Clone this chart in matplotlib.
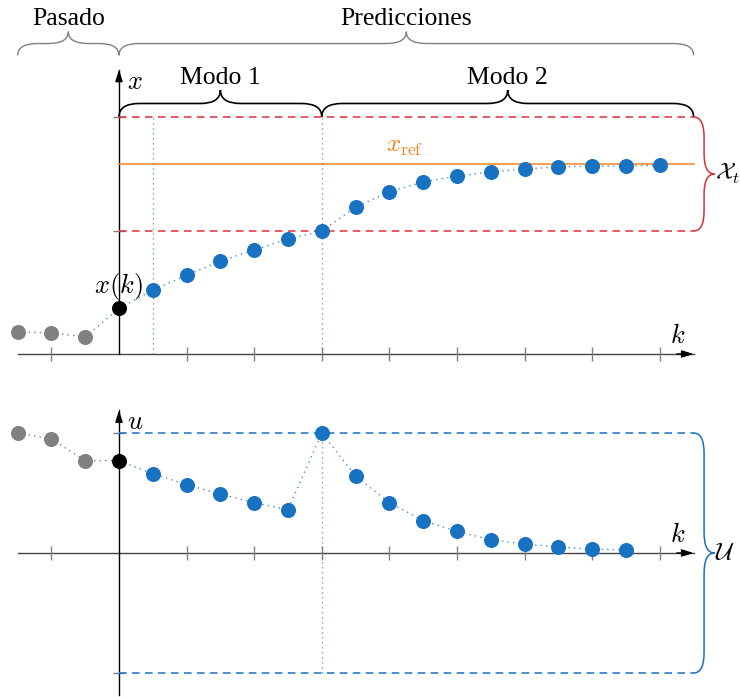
import matplotlib.pyplot as plt
from matplotlib.path import Path
from matplotlib.patches import PathPatch

plt.rcParams['font.family'] = ['Liberation Serif', 'DejaVu Serif']
plt.rcParams['mathtext.fontset'] = 'cm'

# datos
k_past = [-3, -2, -1]
x_past = [0.93, 0.89, 0.72]
x_now = 1.92
k_pred_x = list(range(1, 17))
x_pred = [2.70, 3.33, 3.92, 4.39, 4.85, 5.19, 6.20, 6.84, 7.26, 7.51,
          7.68, 7.81, 7.89, 7.93, 7.93, 7.97]
x_ref = 8.0
x_max = 10.0
x_min = 5.19

u_past = [1.0, 0.95, 0.77]
u_now = 0.77
k_pred_u = list(range(1, 16))
u_pred = [0.66, 0.57, 0.49, 0.42, 0.36, 1.0, 0.64, 0.42, 0.27, 0.18,
          0.11, 0.075, 0.05, 0.033, 0.025]
u_max = 1.0
u_min = -1.0

k_ticks = [-2, 2, 4, 6, 8, 10, 12, 14, 16]
k_end = 17
k_switch = 6

BLUE = '#1872c2'
GRAY = '#808080'
RED = '#dc2f3a'
ORANGE = '#f5821f'


def brace(ax, a, b, base, h, r, vertical=False, **kw):
    m = (a + b) / 2
    pts = [(a, base), (a, base + h / 2), (a + r, base + h / 2),
           (m - r, base + h / 2), (m, base + h / 2), (m, base + h),
           (m, base + h / 2), (m + r, base + h / 2),
           (b - r, base + h / 2), (b, base + h / 2), (b, base)]
    if vertical:
        pts = [(y, x) for x, y in pts]
    codes = [Path.MOVETO, Path.CURVE3, Path.CURVE3, Path.LINETO,
             Path.CURVE3, Path.CURVE3, Path.CURVE3, Path.CURVE3,
             Path.LINETO, Path.CURVE3, Path.CURVE3]
    ax.add_patch(PathPatch(Path(pts, codes), fill=False, clip_on=False, **kw))


def arrow(ax, p0, p1):
    ax.annotate('', xy=p1, xytext=p0, annotation_clip=False,
                arrowprops=dict(arrowstyle='-|>,head_width=0.22,head_length=0.7',
                                color='black', lw=1.0, shrinkA=0, shrinkB=0))


W, H = 740, 697
fig = plt.figure(figsize=(W / 100, H / 100), dpi=100)
step = 33.8
xlim = (-119 / step, (W - 119) / step)

ax1 = fig.add_axes([0, 1 - 380 / H, 1, 380 / H])
ax1.set_xlim(*xlim)
ax1.set_ylim((354 - 380) / 23.7, 354 / 23.7)
ax2 = fig.add_axes([0, 0, 1, 317 / H])
ax2.set_xlim(*xlim)
ax2.set_ylim((553 - 697) / 120, (553 - 380) / 120)
for ax in (ax1, ax2):
    ax.axis('off')

# ---- estado x ----
ax1.plot([k_past[0], k_end], [0, 0], color='#444444', lw=1.0)
arrow(ax1, (k_end - 0.5, 0), (k_end, 0))
ax1.plot([0, 0], [0, 12], color='black', lw=1.0)
arrow(ax1, (0, 11.5), (0, 12))
ax1.plot(k_ticks, [0] * len(k_ticks), ls='', marker='|', ms=10, color=GRAY, mew=1)
ax1.plot([0, 0], [x_max, x_min], ls='', marker='_', ms=9, color=GRAY, mew=1)

ax1.plot([0, k_end], [x_max, x_max], color=RED, lw=1.1, dashes=(5, 3.5))
ax1.plot([0, k_end], [x_min, x_min], color=RED, lw=1.1, dashes=(5, 3.5))
ax1.plot([0, k_end], [x_ref, x_ref], color=ORANGE, lw=1.1)
for kv in (1, k_switch):
    ax1.plot([kv, kv], [0, x_max], color=BLUE, lw=0.9, ls=(0, (1, 3)), alpha=0.8)

ax1.plot(k_past, x_past, color=GRAY, lw=1, ls=(0, (1, 3)))
ax1.plot([k_past[-1], 0] + k_pred_x, [x_past[-1], x_now] + x_pred,
         color=BLUE, lw=1, ls=(0, (1, 3)), alpha=0.8)
ax1.plot(k_past, x_past, 'o', color=GRAY, ms=9.8, zorder=5)
ax1.plot(k_pred_x, x_pred, 'o', color=BLUE, ms=9.8, zorder=5)
ax1.plot([0], [x_now], 'o', color='black', ms=9.8, zorder=6)

ax1.text(0.47, 11.43, r'$x$', fontsize=19, ha='center', va='center')
ax1.text(16.54, 0.75, r'$k$', fontsize=19, ha='center', va='center')
ax1.text(-0.03, 2.83, r'$x(k)$', fontsize=19, ha='center', va='center')
ax1.text(8.46, 8.73, r'$x_{\mathrm{ref}}$', fontsize=18, ha='center', va='center',
         color=ORANGE)

# llaves superiores
brace(ax1, k_past[0], 0, 12.6, 1.0, 0.6, color=GRAY, lw=1.0)
brace(ax1, 0, k_end, 12.6, 1.0, 0.6, color=GRAY, lw=1.0)
ax1.text(-1.5, 14.15, 'Pasado', fontsize=18.5, ha='center', va='center')
ax1.text(k_end / 2, 14.15, 'Predicciones', fontsize=18.5, ha='center', va='center')
brace(ax1, 0, k_switch, x_max, 1.14, 0.6, color='black', lw=1.2)
brace(ax1, k_switch, k_end, x_max, 1.14, 0.6, color='black', lw=1.2)
ax1.text(k_switch / 2, 11.65, 'Modo 1', fontsize=18.5, ha='center', va='center')
ax1.text((k_switch + k_end) / 2, 11.65, 'Modo 2', fontsize=18.5, ha='center',
         va='center')
brace(ax1, x_max, x_min, k_end, 0.62, -0.85, vertical=True, color=RED, lw=1.1)
ax1.text(17.64, 7.6, r'$\mathcal{X}_t$', fontsize=17, ha='left', va='center')

# ---- entrada u ----
ax2.plot([k_past[0], k_end], [0, 0], color='#444444', lw=1.0)
arrow(ax2, (k_end - 0.5, 0), (k_end, 0))
ax2.plot([0, 0], [-1.18, 1.19], color='black', lw=1.0)
arrow(ax2, (0, 1.1), (0, 1.19))
ax2.plot(k_ticks, [0] * len(k_ticks), ls='', marker='|', ms=10, color=GRAY, mew=1)
ax2.plot([0, 0], [u_max, u_min], ls='', marker='_', ms=9, color=GRAY, mew=1)

ax2.plot([0, k_end], [u_max, u_max], color=BLUE, lw=1.1, dashes=(5, 3.5))
ax2.plot([0, k_end], [u_min, u_min], color=BLUE, lw=1.1, dashes=(5, 3.5))
ax2.plot([k_switch, k_switch], [u_min, u_max], color=BLUE, lw=0.9,
         ls=(0, (1, 3)), alpha=0.8)

ax2.plot(k_past + [0], u_past + [u_now], color=GRAY, lw=1, ls=(0, (1, 3)))
ax2.plot([0] + k_pred_u, [u_now] + u_pred, color=BLUE, lw=1, ls=(0, (1, 3)),
         alpha=0.8)
ax2.plot(k_past, u_past, 'o', color=GRAY, ms=9.8, zorder=5)
ax2.plot(k_pred_u, u_pred, 'o', color=BLUE, ms=9.8, zorder=5)
ax2.plot([0], [u_now], 'o', color='black', ms=9.8, zorder=6)

ax2.text(0.47, 1.08, r'$u$', fontsize=19, ha='center', va='center')
ax2.text(16.54, 0.15, r'$k$', fontsize=19, ha='center', va='center')
brace(ax2, u_max, u_min, k_end, 0.62, -0.17, vertical=True, color=BLUE, lw=1.1)
ax2.text(17.64, 0, r'$\mathcal{U}$', fontsize=18, ha='left', va='center')

fig.savefig('out.png', dpi=100)
